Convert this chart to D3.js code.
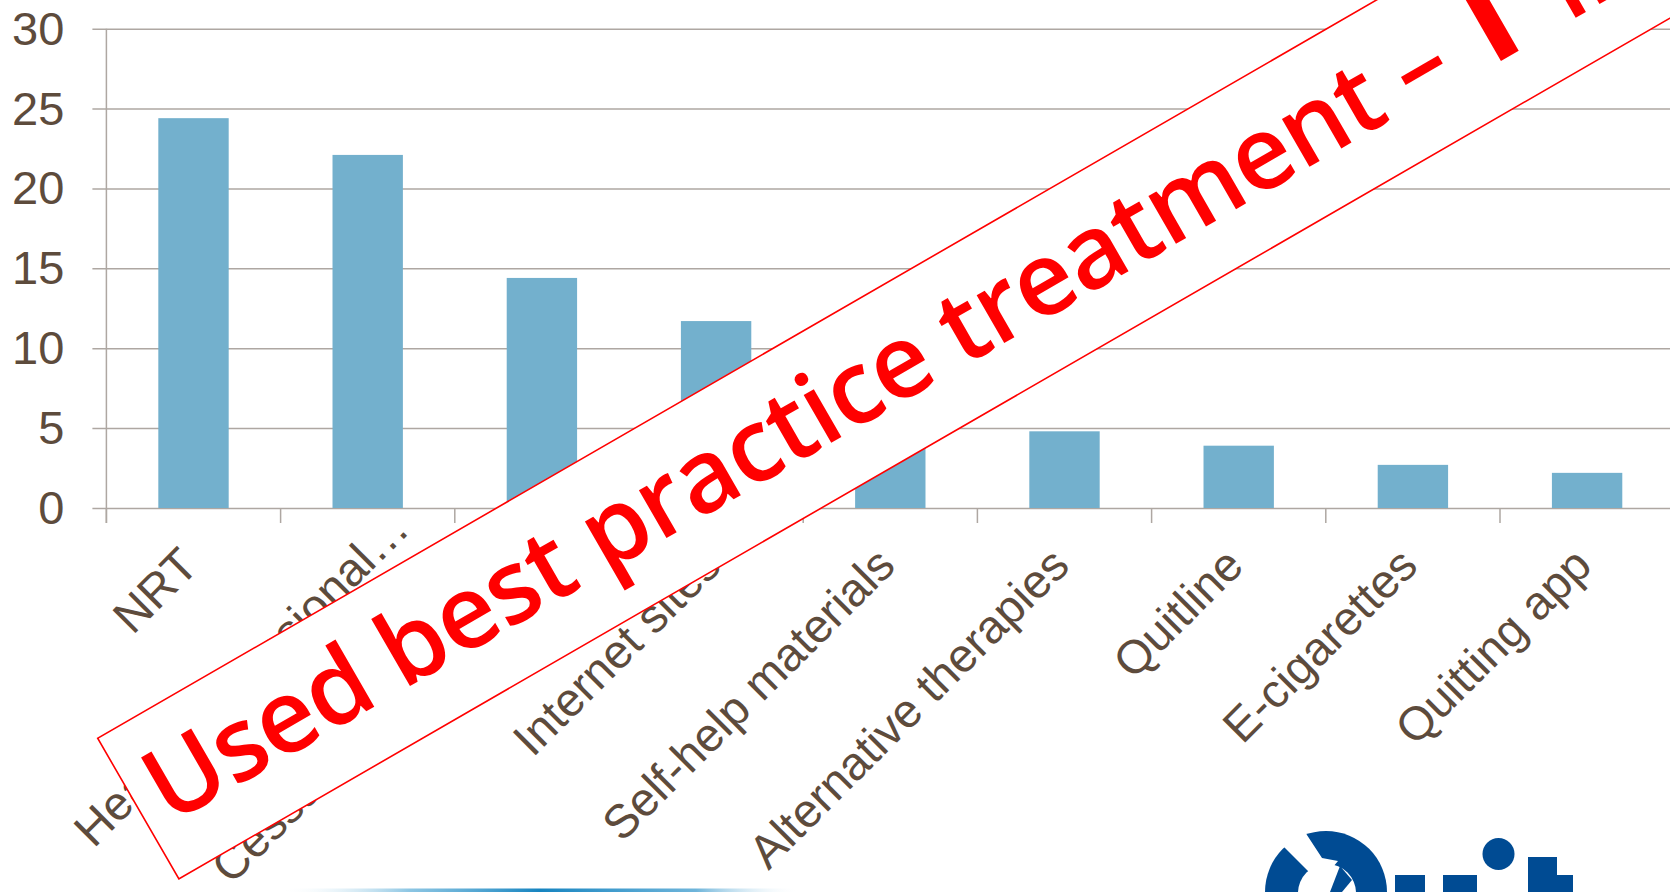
<!DOCTYPE html>
<html>
<head>
<meta charset="utf-8">
<script src="https://cdn.jsdelivr.net/npm/d3@7/dist/d3.min.js"></script>
<style>
  html, body { margin: 0; padding: 0; background: #ffffff; overflow: hidden; }
  svg { display: block; }
</style>
</head>
<body>
<svg id="chart" width="1670" height="892"></svg>
<script>
// Quit methods used (%)
const categories = [
  "NRT",
  "Health professional\u2026",
  "Cessation medication",
  "Internet sites",
  "Self-help materials",
  "Alternative therapies",
  "Quitline",
  "E-cigarettes",
  "Quitting app"
];
const values = [24.4, 22.1, 14.4, 11.7, 7.0, 4.8, 3.9, 2.7, 2.2];
const yTicks = [0, 5, 10, 15, 20, 25, 30];
const bannerLead = "Used best practice treatment \u2013 ";
const bannerArrow = "\u2191";
const bannerTail = " in";

const W = 1670, H = 892;
const svg = d3.select("#chart");

const plot = { left: 106.4, top: 28.7, bottom: 508, step: 174.2 };
const textColor = "#5d4b3c";
const gridColor = "#aea7a2";
const barColor = "#73b0cd";
const axisFont = "'Liberation Sans', Arial, sans-serif";

const x = d3.scaleBand()
  .domain(categories)
  .range([plot.left, plot.left + plot.step * categories.length])
  .padding(0);

const y = d3.scaleLinear()
  .domain([0, 30])
  .range([plot.bottom, plot.top]);

// horizontal gridlines + y tick labels
const yAxis = d3.axisLeft(y)
  .tickValues(yTicks)
  .tickSize(-(W - plot.left + 20))
  .tickPadding(0)
  .tickFormat(d3.format("d"));

const gy = svg.append("g")
  .attr("transform", `translate(${plot.left},0)`)
  .call(yAxis);
gy.select(".domain").remove();
gy.selectAll(".tick line")
  .attr("x1", -14)
  .attr("stroke", gridColor)
  .attr("stroke-width", 1.5);
gy.selectAll(".tick text")
  .attr("x", -42)
  .attr("dy", "0.33em")
  .attr("fill", textColor)
  .attr("font-family", axisFont)
  .attr("font-size", 47)
  .attr("text-anchor", "end");

// vertical axis line
svg.append("line")
  .attr("x1", plot.left).attr("x2", plot.left)
  .attr("y1", y(30)).attr("y2", plot.bottom + 15)
  .attr("stroke", gridColor).attr("stroke-width", 1.5);

// category tick marks at band boundaries
const boundaries = d3.range(categories.length + 1).map(i => plot.left + i * x.step());
svg.append("g").selectAll("line")
  .data(boundaries)
  .join("line")
  .attr("x1", d => d).attr("x2", d => d)
  .attr("y1", plot.bottom).attr("y2", plot.bottom + 15)
  .attr("stroke", gridColor).attr("stroke-width", 1.5);

// bars
const barFrac = 0.404;
svg.append("g").selectAll("rect")
  .data(values)
  .join("rect")
  .attr("x", (d, i) => x(categories[i]) + x.bandwidth() * (1 - barFrac) / 2)
  .attr("width", x.bandwidth() * barFrac)
  .attr("y", d => y(d))
  .attr("height", d => y(0) - y(d))
  .attr("fill", barColor);

// rotated category labels; an elided label lets its ellipsis hang past the anchor
svg.append("g").selectAll("text")
  .data(categories)
  .join("text")
  .attr("transform", d => {
    const cx = x(d) + x.bandwidth() / 2;
    return `translate(${cx + 7},${plot.bottom + 60}) rotate(-45)`;
  })
  .attr("x", d => d.endsWith("\u2026") ? 52 : 0)
  .attr("text-anchor", "end")
  .attr("fill", textColor)
  .attr("font-family", axisFont)
  .attr("font-size", 47)
  .text(d => d);

// bottom accent strip
const defs = svg.append("defs");
const grad = defs.append("linearGradient")
  .attr("id", "strip").attr("x1", "0%").attr("x2", "100%");
[[0, "#ffffff", 0], [0.25, "#6fb7dc", 0.8], [0.5, "#1684c0", 1], [0.8, "#4aa2d1", 0.8], [1, "#ffffff", 0]]
  .forEach(([o, c, a]) => grad.append("stop").attr("offset", o).attr("stop-color", c).attr("stop-opacity", a));
svg.append("rect")
  .attr("x", 280).attr("y", 888.5).attr("width", 520).attr("height", 4)
  .attr("fill", "url(#strip)");

// Quit logo (partial, bottom right)
const logoBlue = "#004b93";
const logo = svg.append("g");
logo.append("circle").attr("cx", 1326).attr("cy", 892).attr("r", 61).attr("fill", logoBlue);
logo.append("circle").attr("cx", 1327).attr("cy", 893).attr("r", 29).attr("fill", "#ffffff");
logo.append("path")
  .attr("d", "M1283,846 L1305,832 L1322,858 L1338,861 L1322,880 L1312,892 L1300,892 L1311,874 Z")
  .attr("fill", "#ffffff");
logo.append("path")
  .attr("d", "M1340,866 L1352,880 L1342,892 L1330,892 Z")
  .attr("fill", logoBlue);
logo.append("rect").attr("x", 1395).attr("y", 875).attr("width", 30).attr("height", 20).attr("fill", logoBlue);
logo.append("rect").attr("x", 1443).attr("y", 875).attr("width", 34).attr("height", 20).attr("fill", logoBlue);
logo.append("circle").attr("cx", 1498.5).attr("cy", 854).attr("r", 16).attr("fill", logoBlue);
logo.append("rect").attr("x", 1528).attr("y", 857).attr("width", 29).attr("height", 40).attr("fill", logoBlue);
logo.append("rect").attr("x", 1528).attr("y", 875).attr("width", 45).attr("height", 20).attr("fill", logoBlue);

// diagonal banner
const banner = svg.append("g")
  .attr("transform", "translate(97.7,738.3) rotate(-30)");
banner.append("rect")
  .attr("x", 0).attr("y", 0)
  .attr("width", 2300).attr("height", 162.4)
  .attr("fill", "#ffffff")
  .attr("stroke", "#ff0000")
  .attr("stroke-width", 1.6);
const bt = banner.append("text")
  .attr("x", 19).attr("y", 115)
  .attr("fill", "#ff0000")
  .attr("font-family", "'Open Sans', 'Noto Sans', sans-serif")
  .attr("font-weight", 600)
  .attr("font-size", 102)
  .attr("letter-spacing", -1.0);
bt.append("tspan").attr("dy", -4).text(bannerLead);
bt.append("tspan")
  .attr("dx", -40)
  .attr("dy", 4)
  .attr("font-family", "'DejaVu Sans', sans-serif")
  .attr("font-size", 175)
  .text(bannerArrow);
bt.append("tspan").attr("dx", -30).text(bannerTail);
</script>
</body>
</html>
